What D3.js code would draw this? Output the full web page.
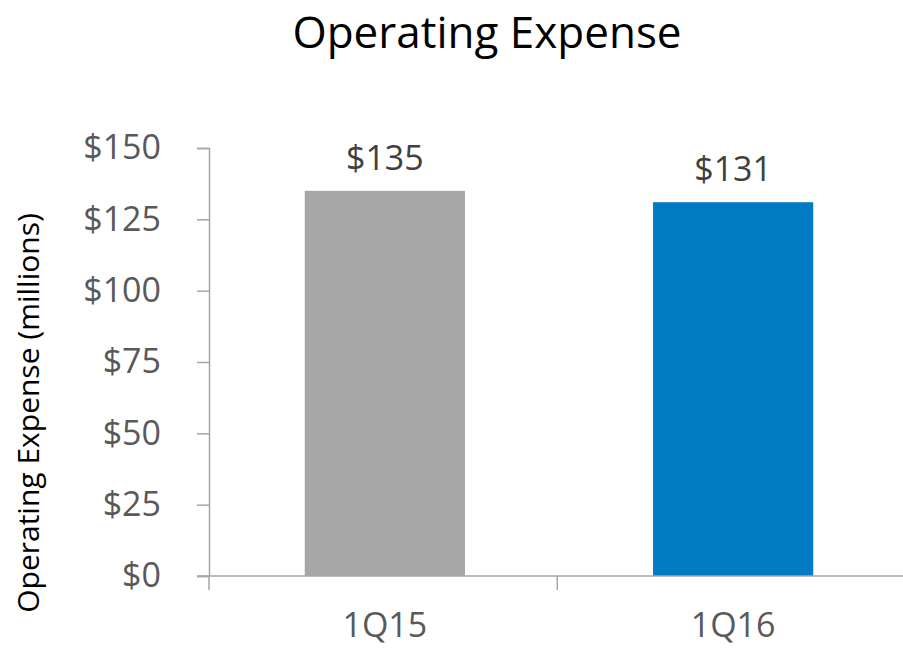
<!DOCTYPE html>
<html>
<head>
<meta charset="utf-8">
<script src="https://cdn.jsdelivr.net/npm/d3@7"></script>
<style>
  body { margin: 0; background: #fff; }
  text { font-family: "Open Sans", "Noto Sans", sans-serif; }
</style>
</head>
<body>
<svg id="chart"></svg>
<script>
// Chart data
const categories = ["1Q15", "1Q16"];
const values = [135, 131];
const valueLabels = ["$135", "$131"];
const yTicks = [0, 25, 50, 75, 100, 125, 150];
const barColors = ["#a6a6a6", "#007bc4"];

const width = 903;
const height = 650;

const svg = d3.select("#chart")
    .attr("width", width)
    .attr("height", height);

// Plot area
const plotLeft = 209, plotRight = 909, plotTop = 148, plotBottom = 576;

const xScale = d3.scaleBand()
    .domain(categories)
    .range([plotLeft, plotRight])
    .paddingInner(0.54)
    .paddingOuter(0.275);

const yScale = d3.scaleLinear()
    .domain([0, 150])
    .range([plotBottom, plotTop]);

const axisColor = "#a6a6a6";

// Title
svg.append("text")
    .attr("x", 487)
    .attr("y", 48)
    .attr("text-anchor", "middle")
    .attr("font-size", 44)
    .attr("fill", "#000")
    .text("Operating Expense");

// Y axis title
svg.append("text")
    .attr("transform", `translate(39, 413) rotate(-90)`)
    .attr("text-anchor", "middle")
    .attr("font-size", 30)
    .attr("fill", "#000")
    .text("Operating Expense (millions)");

// Bars
svg.selectAll("rect.bar")
    .data(values)
    .enter().append("rect")
    .attr("class", "bar")
    .attr("x", (d, i) => xScale(categories[i]))
    .attr("y", d => yScale(d))
    .attr("width", xScale.bandwidth())
    .attr("height", d => yScale(0) - yScale(d))
    .attr("fill", (d, i) => barColors[i]);

// Value labels
svg.selectAll("text.value")
    .data(values)
    .enter().append("text")
    .attr("class", "value")
    .attr("x", (d, i) => xScale(categories[i]) + xScale.bandwidth() / 2)
    .attr("y", d => yScale(d) - 21)
    .attr("text-anchor", "middle")
    .attr("font-size", 34)
    .attr("fill", "#404040")
    .text((d, i) => valueLabels[i]);

// Y axis
const yAxis = svg.append("g")
    .attr("transform", `translate(${plotLeft},0)`)
    .call(d3.axisLeft(yScale)
        .tickValues(yTicks)
        .tickSize(12)
        .tickPadding(36)
        .tickFormat(d => "$" + d));
yAxis.select(".domain").attr("stroke", axisColor).attr("stroke-width", 1.5);
yAxis.selectAll(".tick line").attr("stroke", axisColor).attr("stroke-width", 1.5);
yAxis.selectAll(".tick text")
    .attr("font-size", 34)
    .attr("fill", "#595959")
    .attr("font-family", "\"Open Sans\", \"Noto Sans\", sans-serif");

// X axis: baseline with ticks between categories
const xAxis = svg.append("g")
    .attr("transform", `translate(0,${plotBottom})`);
xAxis.append("line")
    .attr("x1", plotLeft - 12)
    .attr("x2", width)
    .attr("stroke", axisColor)
    .attr("stroke-width", 1.5);
const bounds = [plotLeft, plotLeft + xScale.step(), plotLeft + 2 * xScale.step()];
xAxis.selectAll("line.tick")
    .data(bounds)
    .enter().append("line")
    .attr("class", "tick")
    .attr("x1", d => d)
    .attr("x2", d => d)
    .attr("y1", 0)
    .attr("y2", 14)
    .attr("stroke", axisColor)
    .attr("stroke-width", 1.5);
xAxis.selectAll("text")
    .data(categories)
    .enter().append("text")
    .attr("x", d => xScale(d) + xScale.bandwidth() / 2)
    .attr("y", 61)
    .attr("text-anchor", "middle")
    .attr("font-size", 34)
    .attr("fill", "#595959")
    .text(d => d);
</script>
</body>
</html>
